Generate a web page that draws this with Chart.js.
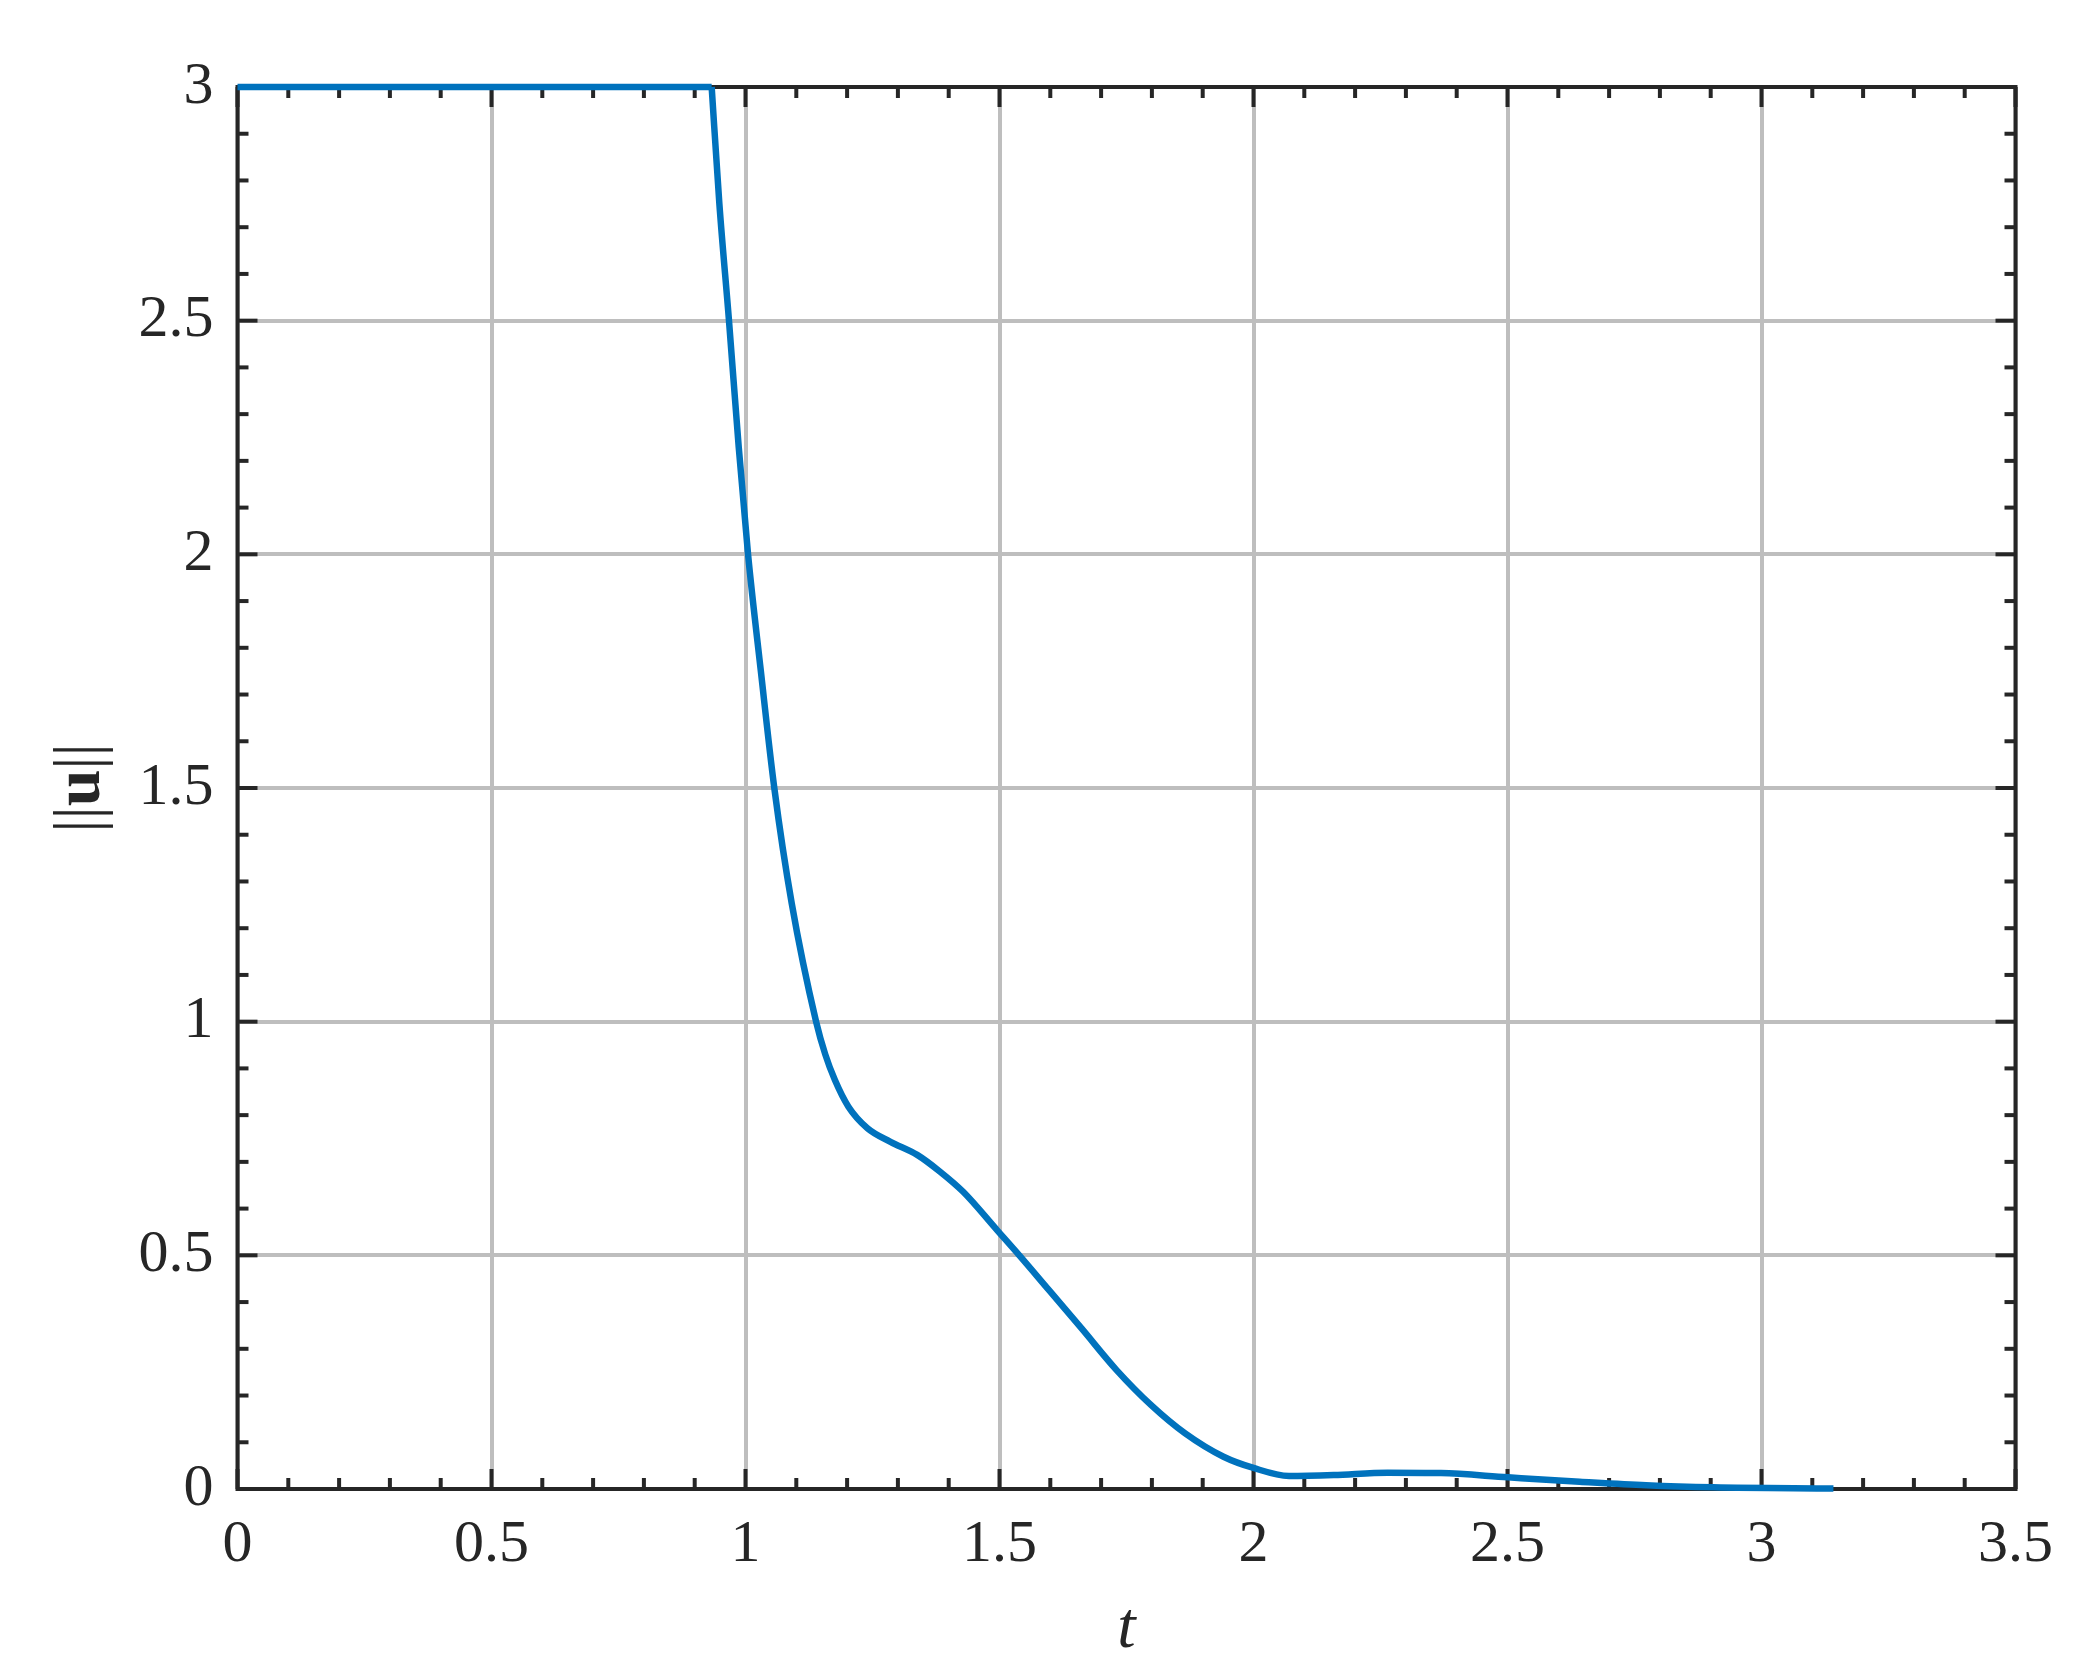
<!DOCTYPE html>
<html>
<head>
<meta charset="utf-8">
<script src="https://cdn.jsdelivr.net/npm/chart.js@4/dist/chart.umd.min.js"></script>
<style>
    html, body { margin: 0; padding: 0; background: #fff; }
    #wrap { width: 2094px; height: 1680px; }
</style>
</head>
<body>
<div id="wrap"><canvas id="chart" width="2094" height="1680"></canvas></div>
<script>
// =============================================================================
// ||u|| over t
// =============================================================================

const tValues = [0, 0.9334, 0.9485, 0.9675, 0.9866, 1.005, 1.030, 1.0567, 1.091, 1.139,
    1.157, 1.176, 1.2026, 1.240, 1.2854, 1.338, 1.383, 1.4285, 1.496, 1.539,
    1.594, 1.662, 1.730, 1.798, 1.8655, 1.941, 2.0, 2.07, 2.158, 2.264,
    2.369, 2.501, 2.642, 2.773, 2.905, 3.1416];
const uNorm = [3, 3, 2.751, 2.5, 2.23, 2.0, 1.752, 1.5, 1.253, 1.0,
    0.93, 0.875, 0.818, 0.772, 0.743, 0.715, 0.679, 0.636, 0.553, 0.5,
    0.430, 0.343, 0.255, 0.18, 0.119, 0.069, 0.045, 0.028, 0.030, 0.035,
    0.034, 0.025, 0.0157, 0.008, 0.0036, 0.001];

// the saturated part ends where the decay begins (sharp corner)
const cornerIndex = 1;

const xTicks = [0, 0.5, 1, 1.5, 2, 2.5, 3, 3.5];
const xTickLabels = ['0', '0.5', '1', '1.5', '2', '2.5', '3', '3.5'];
const yTicks = [0, 0.5, 1, 1.5, 2, 2.5, 3];
const yTickLabels = ['0', '0.5', '1', '1.5', '2', '2.5', '3'];

const xTitle = 't';
const yTitleBars = '||';
const yTitleVar = 'u';

const AXIS = '#262626';
const GRID = '#bebebe';
const LINE = '#0072bd';
const SERIF = "'Liberation Serif', 'DejaVu Serif', serif";

const points = tValues.map((t, i) => ({ x: t, y: uNorm[i] }));

// box, major + minor ticks on all four sides, drawn under the data line
const axisBox = {
    id: 'axisBox',
    beforeDatasetsDraw(chart) {
        const { ctx, chartArea: a, scales: { x, y } } = chart;
        const seg = (x1, y1, x2, y2) => {
            ctx.beginPath();
            ctx.moveTo(x1, y1);
            ctx.lineTo(x2, y2);
            ctx.stroke();
        };
        ctx.save();
        ctx.strokeStyle = AXIS;
        ctx.lineWidth = 4;
        ctx.lineCap = 'butt';
        for (let k = 0; k <= 35; k++) {
            const px = x.getPixelForValue(k / 10);
            const len = k % 5 === 0 ? 20 : 11;
            seg(px, a.bottom, px, a.bottom - len);
            seg(px, a.top, px, a.top + len);
        }
        for (let k = 0; k <= 30; k++) {
            const py = y.getPixelForValue(k / 10);
            const len = k % 5 === 0 ? 20 : 11;
            seg(a.left, py, a.left + len, py);
            seg(a.right, py, a.right - len, py);
        }
        ctx.strokeRect(a.left, a.top, a.right - a.left, a.bottom - a.top);
        ctx.restore();
    },
    afterDraw(chart) {
        const { ctx, chartArea: a } = chart;
        ctx.save();
        ctx.fillStyle = AXIS;

        // x title, italic t
        ctx.font = `italic 66px ${SERIF}`;
        ctx.textAlign = 'center';
        ctx.textBaseline = 'alphabetic';
        ctx.fillText(xTitle, (a.left + a.right) / 2, 1647);

        // y title ||u|| with bold u, rotated
        const normal = `66px ${SERIF}`;
        const bold = `bold 66px ${SERIF}`;
        ctx.font = normal;
        const wBars = ctx.measureText(yTitleBars).width;
        ctx.font = bold;
        const wVar = ctx.measureText(yTitleVar).width;
        const total = wBars * 2 + wVar;
        ctx.translate(99, (a.top + a.bottom) / 2);
        ctx.rotate(-Math.PI / 2);
        ctx.textAlign = 'left';
        let cx = -total / 2;
        ctx.font = normal;
        ctx.fillText(yTitleBars, cx, 0);
        cx += wBars;
        ctx.font = bold;
        ctx.fillText(yTitleVar, cx, 0);
        cx += wVar;
        ctx.font = normal;
        ctx.fillText(yTitleBars, cx, 0);
        ctx.restore();
    }
};

const lineStyle = {
    borderColor: LINE,
    borderWidth: 6.5,
    pointRadius: 0,
    fill: false,
    clip: false,
    borderCapStyle: 'butt',
    borderJoinStyle: 'miter'
};

const ctx = document.getElementById('chart');

new Chart(ctx, {
    type: 'line',
    data: {
        datasets: [
            { ...lineStyle, data: points.slice(0, cornerIndex + 1), tension: 0 },
            { ...lineStyle, data: points.slice(cornerIndex), cubicInterpolationMode: 'monotone' }
        ]
    },
    options: {
        responsive: false,
        animation: false,
        layout: { padding: { top: 87, right: 78.5, left: 0, bottom: 0 } },
        plugins: { legend: { display: false }, tooltip: { enabled: false } },
        scales: {
            x: {
                type: 'linear',
                min: 0,
                max: 3.5,
                afterBuildTicks: s => { s.ticks = xTicks.map(v => ({ value: v })); },
                afterFit: s => { s.height = 191; },
                ticks: {
                    color: AXIS,
                    font: { family: SERIF, size: 60 },
                    padding: 20,
                    maxRotation: 0,
                    callback: (v, i) => xTickLabels[i]
                },
                grid: { color: GRID, lineWidth: 4, drawTicks: false },
                border: { display: false }
            },
            y: {
                type: 'linear',
                min: 0,
                max: 3,
                afterBuildTicks: s => { s.ticks = yTicks.map(v => ({ value: v })); },
                afterFit: s => { s.width = 237.5; },
                ticks: {
                    color: AXIS,
                    font: { family: SERIF, size: 60 },
                    padding: 24,
                    callback: (v, i) => yTickLabels[i]
                },
                grid: { color: GRID, lineWidth: 4, drawTicks: false },
                border: { display: false }
            }
        }
    },
    plugins: [axisBox]
});
</script>
</body>
</html>
